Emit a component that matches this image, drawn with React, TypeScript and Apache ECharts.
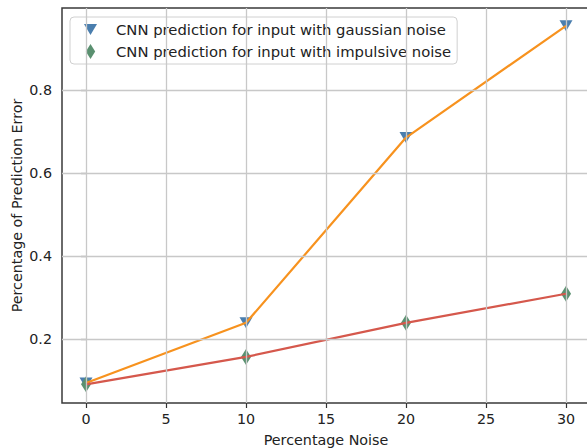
import React, { useEffect, useRef } from "react";
import * as echarts from "echarts";

const noiseLevels = [0, 10, 20, 30];
const gaussianError = [0.095, 0.24, 0.686, 0.955];
const impulsiveError = [0.092, 0.158, 0.24, 0.31];
const xTicks = [0, 5, 10, 15, 20, 25, 30];
const yTicks = [0.2, 0.4, 0.6, 0.8];
const gaussianName = "CNN prediction for input with gaussian noise";
const impulsiveName = "CNN prediction for input with impulsive noise";

const FONT = "DejaVu Sans";
const TRI = "path://M0,0L13,0L6.5,11Z";
const DIA = "path://M5,0L10,8L5,16L0,8Z";

export default function App() {
  const ref = useRef<HTMLDivElement>(null);
  useEffect(() => {
    if (!ref.current) return;
    const chart = echarts.init(ref.current, undefined, { renderer: "svg" });
    const pairs = (ys: number[]) => noiseLevels.map((x, i) => [x, ys[i]]);
    chart.setOption({
      animation: false,
      backgroundColor: "#fff",
      grid: {
        left: 62,
        width: 528,
        top: 8,
        height: 395,
        outerBoundsMode: "none",
        containLabel: false,
        show: true,
        borderColor: "#3a3a3a",
        borderWidth: 1.5,
        backgroundColor: "transparent",
      },
      legend: {
        left: 70,
        top: 17,
        orient: "vertical",
        data: [
          { name: gaussianName, icon: TRI },
          { name: impulsiveName, icon: DIA },
        ],
        itemWidth: 13,
        itemHeight: 15,
        itemGap: 7,
        padding: [5, 6, 5, 14],
        borderColor: "#d0d0d0",
        borderWidth: 1,
        borderRadius: 4,
        backgroundColor: "rgba(255,255,255,0.85)",
        textStyle: {
          fontFamily: FONT,
          fontSize: 14.8,
          color: "#222",
          padding: [0, 0, 0, 14],
        },
      },
      xAxis: {
        type: "value",
        min: -1.5,
        max: 31.5,
        name: "Percentage Noise",
        nameLocation: "middle",
        nameGap: 30,
        nameTextStyle: { fontFamily: FONT, fontSize: 14.3, color: "#222" },
        axisLine: { show: false },
        axisTick: {
          show: true,
          length: 5,
          customValues: xTicks,
          lineStyle: { color: "#333", width: 1.2 },
        },
        axisLabel: {
          customValues: xTicks,
          margin: 9,
          fontFamily: FONT,
          fontSize: 14.3,
          color: "#222",
        },
        splitLine: { show: false },
      },
      yAxis: {
        type: "value",
        min: 0.047,
        max: 0.998,
        name: "Percentage of Prediction Error",
        nameLocation: "middle",
        nameGap: 38,
        nameMoveOverlap: false,
        nameTextStyle: { fontFamily: FONT, fontSize: 14.3, color: "#222" },
        axisLine: { show: false },
        axisTick: {
          show: true,
          length: 5,
          customValues: yTicks,
          lineStyle: { color: "#333", width: 1.2 },
        },
        axisLabel: {
          customValues: yTicks,
          margin: 10,
          fontFamily: FONT,
          fontSize: 14.3,
          color: "#222",
          formatter: (v: number) => v.toFixed(1),
        },
        splitLine: { show: false },
      },
      series: [
        {
          name: "gridlines",
          type: "line",
          data: [],
          silent: true,
          z: 1,
          markLine: {
            silent: true,
            symbol: ["none", "none"],
            label: { show: false },
            lineStyle: { color: "#c8c8c8", width: 1.3, type: "solid" },
            data: [
              ...xTicks.map((x) => ({ xAxis: x })),
              ...yTicks.map((y) => ({ yAxis: y })),
            ],
          },
        },
        {
          name: gaussianName,
          type: "scatter",
          data: pairs(gaussianError),
          symbol: "triangle",
          symbolRotate: 180,
          symbolSize: [13, 11],
          itemStyle: { color: "#4a7eae", opacity: 1 },
          z: 3,
        },
        {
          name: impulsiveName,
          type: "scatter",
          data: pairs(impulsiveError),
          symbol: "diamond",
          symbolSize: [10, 16],
          itemStyle: { color: "#5a9070", opacity: 1 },
          z: 3,
        },
        {
          name: "gaussian line",
          type: "line",
          data: pairs(gaussianError),
          showSymbol: false,
          lineStyle: { color: "#f7921e", width: 2.2 },
          z: 4,
        },
        {
          name: "impulsive line",
          type: "line",
          data: pairs(impulsiveError),
          showSymbol: false,
          lineStyle: { color: "#d5584c", width: 2.2 },
          z: 4,
        },
      ],
    });
    return () => chart.dispose();
  }, []);
  return <div ref={ref} style={{ width: 587, height: 448, position: "fixed", left: 0, top: 0 }} />;
}
